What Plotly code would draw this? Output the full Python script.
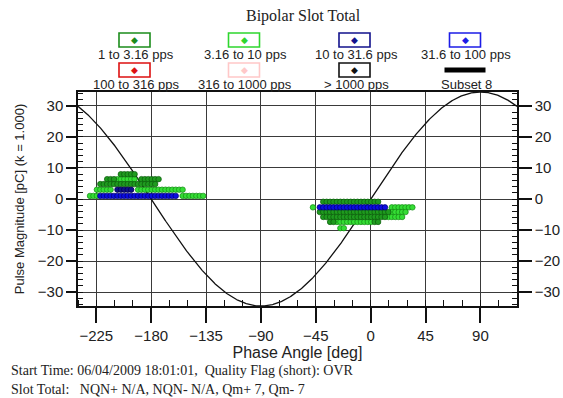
import numpy as np
import plotly.graph_objects as go

# ---------------- data ----------------
PHASE_RANGE = [-240, 120]
MAG_RANGE = [-34.5, 34.5]
SINE_AMPLITUDE = 34.5
PHASE_BIN_WIDTH = 2.8125          # 128 phase windows per cycle

x_tick_values = [-225, -180, -135, -90, -45, 0, 45, 90]
y_tick_values = [-30, -20, -10, 0, 10, 20, 30]

series_names = ["1 to 3.16 pps", "3.16 to 10 pps", "10 to 31.6 pps", "31.6 to 100 pps",
                "100 to 316 pps", "316 to 1000 pps", "> 1000 pps", "Subset 8"]
series_colors = ["#1b8c1b", "#2ed62e", "#12128c", "#1c1ce6",
                 "#dd1111", "#ffc8c8", "#111111", "#000000"]

# occupied (magnitude row, phase start, phase end) per rate class
dark_green_rows = [(8.0, -206, -192), (6.4, -217, -209), (6.4, -190, -173),
                   (4.8, -223, -176),
                   (-0.9, -40, 8), (-4.2, -43, 16), (-5.8, -39, 13), (-7.4, -35, -30), (-7.4, 2, 8)]
light_green_rows = [(6.4, -209, -191), (3.0, -227, -211), (3.0, -193, -154),
                    (1.0, -231, -224), (1.0, -157, -136),
                    (-2.7, -50, -45), (-2.7, 15, 37), (-4.2, 17, 29), (-5.8, 14, 27),
                    (-7.4, -29, 1), (-9.4, -25, -21)]
dark_blue_rows = [(3.0, -210, -194)]
blue_rows = [(1.0, -223, -158), (-2.7, -44, 14)]

rows_by_class = [dark_green_rows, light_green_rows, dark_blue_rows, blue_rows]
fill_colors = ["#1f9a1f", "#35dd35", "#10108a", "#0c0ce0"]
edge_colors = ["#0a5a0a", "#138a13", "#000044", "#00006e"]


def expand(rows):
    centers = PHASE_RANGE[0] + PHASE_BIN_WIDTH * (np.arange(128) + 0.5)
    xs, ys = [], []
    for mag, a, b in rows:
        sel = centers[(centers >= a) & (centers <= b)]
        if len(sel) == 0:
            sel = np.array([(a + b) / 2])
        xs.extend(sel.tolist())
        ys.extend([mag] * len(sel))
    return xs, ys


fig = go.Figure()

# reference sine
phase = np.linspace(PHASE_RANGE[0], PHASE_RANGE[1], 721)
fig.add_trace(go.Scatter(x=phase, y=SINE_AMPLITUDE * np.sin(np.radians(phase)),
                         mode="lines", line=dict(color="#111111", width=1.3),
                         showlegend=False, hoverinfo="skip"))

# draw order: light green, dark green, dark blue, blue
for idx in [1, 0, 2, 3]:
    xs, ys = expand(rows_by_class[idx])
    fig.add_trace(go.Scatter(x=xs, y=ys, mode="markers", name=series_names[idx],
                             marker=dict(size=5.5, color=fill_colors[idx],
                                         line=dict(color=edge_colors[idx], width=0.7)),
                             showlegend=False))

# invisible trace to activate the right axis
fig.add_trace(go.Scatter(x=[0], y=[0], yaxis="y2", mode="markers",
                         marker=dict(opacity=0), showlegend=False, hoverinfo="skip"))

# ---------------- layout ----------------
W, H = 563, 398
L, R, T, B = 78, 517, 92, 306


def px(xp):
    return (xp - L) / (R - L)


def py(yp):
    return (B - yp) / (B - T)


sans = "Liberation Sans, Arial, sans-serif"
serif = "Liberation Serif, Times New Roman, serif"

axis_common = dict(showline=True, linecolor="#111", linewidth=1.5,
                   gridcolor="#3a3a3a", gridwidth=1.4, zeroline=False,
                   tickcolor="#111", tickwidth=1.5,
                   tickfont=dict(family=sans, size=15, color="#222"))

fig.update_layout(
    width=W, height=H,
    margin=dict(l=L, r=W - R, t=T, b=H - B, autoexpand=False),
    paper_bgcolor="white", plot_bgcolor="white",
    showlegend=False,
    xaxis=dict(range=PHASE_RANGE, tickmode="array", tickvals=x_tick_values,
               ticks="outside", ticklen=15, mirror=True, showgrid=True,
               minor=dict(ticks="inside", ticklen=6, tick0=-240, dtick=15,
                          tickcolor="#111", tickwidth=1, showgrid=False),
               title=dict(text="Phase Angle [deg]", standoff=3,
                          font=dict(family=sans, size=16, color="#222")),
               **axis_common),
    yaxis=dict(range=MAG_RANGE, tickmode="array", tickvals=y_tick_values,
               ticks="outside", ticklen=10, showgrid=True,
               minor=dict(ticks="inside", ticklen=5, tick0=0, dtick=2,
                          tickcolor="#111", tickwidth=1, showgrid=False),
               title=dict(text="Pulse Magnitude [pC] (k = 1.000)", standoff=10,
                          font=dict(family=sans, size=13, color="#222")),
               **axis_common),
    yaxis2=dict(range=MAG_RANGE, overlaying="y", side="right", tickmode="array",
                tickvals=y_tick_values, ticks="outside", ticklen=13, showgrid=False,
                minor=dict(ticks="inside", ticklen=5, tick0=0, dtick=2,
                           tickcolor="#111", tickwidth=1, showgrid=False),
                **axis_common),
)

annotations = []
shapes = []

# title
annotations.append(dict(text="Bipolar Slot Total", x=px(303), y=py(16), xref="paper", yref="paper",
                        showarrow=False, font=dict(family=serif, size=16, color="#222"),
                        xanchor="center", yanchor="middle"))

# custom legend: 4 columns x 2 rows
col_box_x = [134.5, 244, 354.5, 465]
col_label_x = [136, 245, 356, 466]
row_box_y = [40, 70]
row_label_y = [55, 84]
for i, (name, color) in enumerate(zip(series_names, series_colors)):
    r, c = divmod(i, 4)
    cx, cy = col_box_x[c], row_box_y[r]
    if name == "Subset 8":
        shapes.append(dict(type="rect", xref="paper", yref="paper",
                           x0=px(cx - 20.5), x1=px(cx + 20.5), y0=py(cy - 2.5), y1=py(cy + 2.5),
                           fillcolor="#000", line=dict(width=0)))
    else:
        shapes.append(dict(type="rect", xref="paper", yref="paper",
                           x0=px(cx - 15.5), x1=px(cx + 15.5), y0=py(cy - 7), y1=py(cy + 7),
                           fillcolor="white", line=dict(color=color, width=1.6)))
        annotations.append(dict(text="◆", x=px(cx), y=py(cy), xref="paper", yref="paper",
                                showarrow=False, font=dict(family="DejaVu Sans", size=9, color=color),
                                xanchor="center", yanchor="middle"))
    annotations.append(dict(text=name, x=px(col_label_x[c]), y=py(row_label_y[r]),
                            xref="paper", yref="paper", showarrow=False,
                            font=dict(family=sans, size=13, color="#222"),
                            xanchor="center", yanchor="middle"))

# footer text
footer_lines = ["Start Time: 06/04/2009 18:01:01,\u00a0 Quality Flag (short): OVR",
                "Slot Total:\u00a0\u00a0 NQN+ N/A, NQN- N/A, Qm+ 7, Qm- 7"]
footer_y = [371, 389]
for txt, yy in zip(footer_lines, footer_y):
    annotations.append(dict(text=txt, x=px(9), y=py(yy), xref="paper", yref="paper",
                            showarrow=False, font=dict(family=serif, size=14, color="#222"),
                            xanchor="left", yanchor="middle"))

fig.update_layout(annotations=annotations, shapes=shapes)

fig.write_html("out.html",
               config={"displayModeBar": False},
               post_script="document.body.style.margin='0';document.body.style.padding='0';")
